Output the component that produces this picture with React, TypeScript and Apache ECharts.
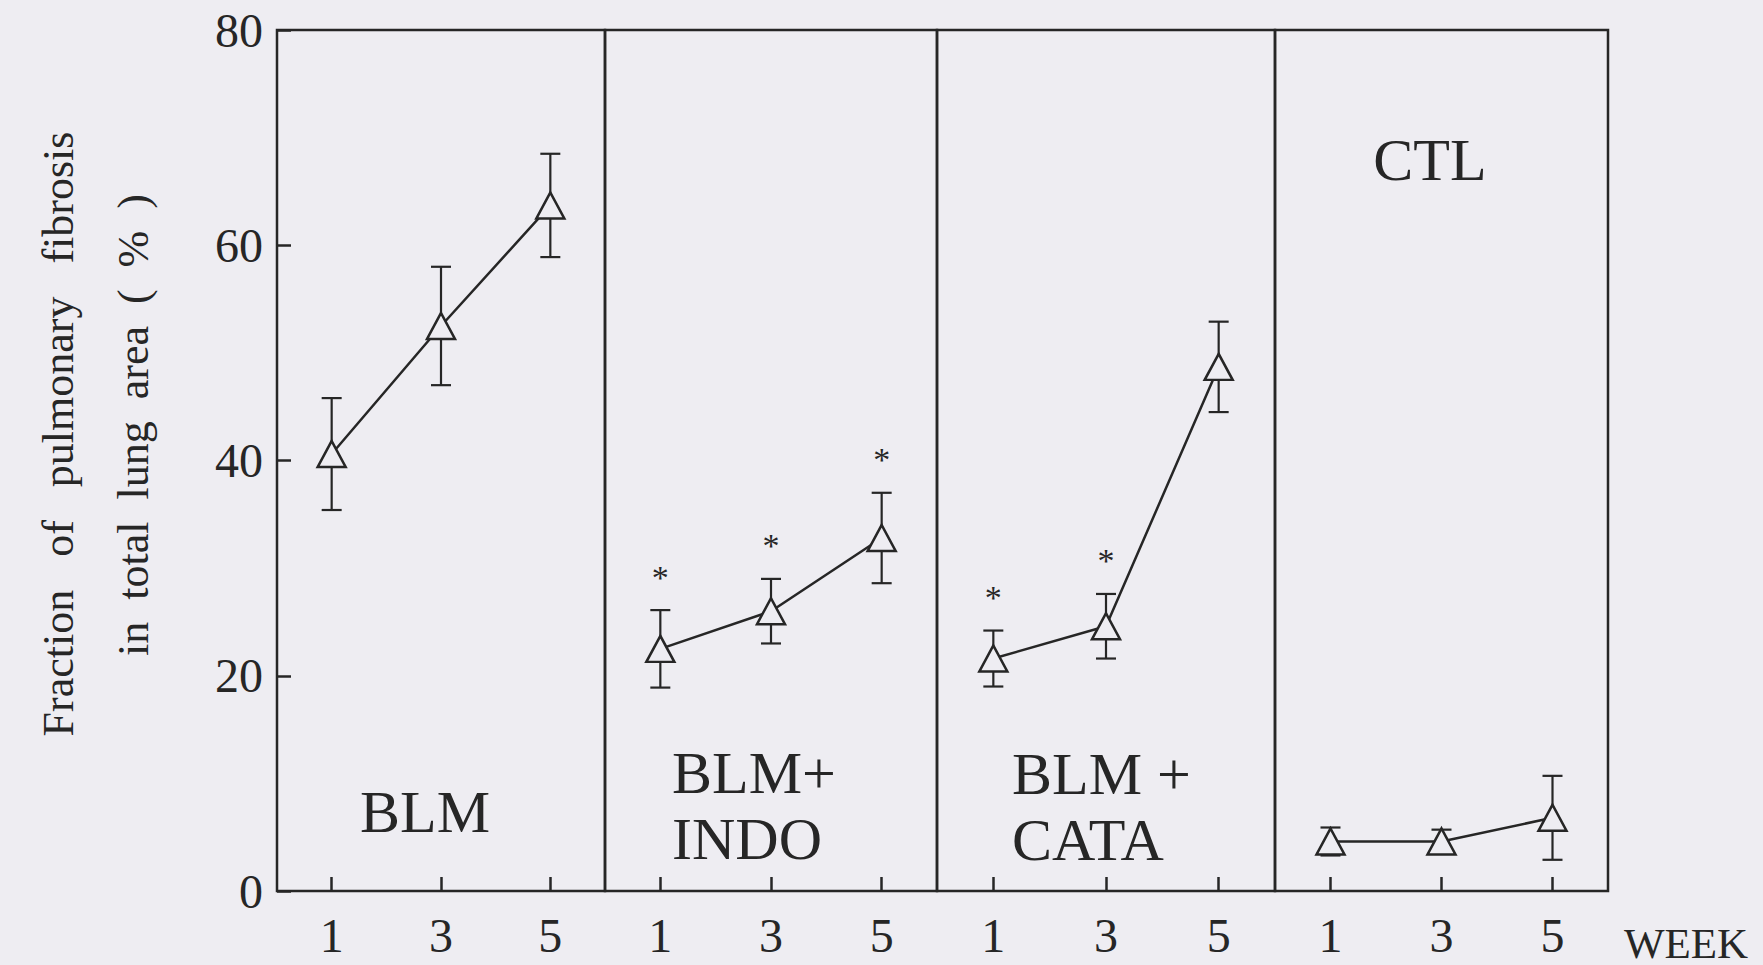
import React, { useEffect, useRef } from "react";
import * as echarts from "echarts";

// ---- data ----
const weeks = [1, 3, 5];
const xTickValues = [1, 3, 5];
const yTickValues = [0, 20, 40, 60, 80];
const groupNames = ["BLM", "BLM+INDO", "BLM+CATA", "CTL"];
const panelLabels = ["BLM", "BLM+\nINDO", "BLM +\nCATA", "CTL"];

const blmMean = [40.6, 52.5, 63.7];
const blmSd = [5.2, 5.5, 4.8];
const indoMean = [22.5, 26.0, 32.8];
const indoSd = [3.6, 3.0, 4.2];
const cataMean = [21.6, 24.6, 48.7];
const cataSd = [2.6, 3.0, 4.2];
const ctlMean = [4.6, 4.6, 6.8];
const ctlSd = [1.3, 1.1, 3.9];

const blmSig = [false, false, false];
const indoSig = [true, true, true];
const cataSig = [true, true, false];
const ctlSig = [false, false, false];

const yTitleLine1 = "Fraction   of   pulmonary   fibrosis";
const yTitleLine2 = "in  total  lung  area  (  %  )";
const xUnitLabel = "WEEK";

// ---- styling / layout ----
const BG = "#eeedf2";
const INK = "#262626";
const FONT = "'Liberation Serif', 'DejaVu Serif', serif";
const panelLeft = [277, 605, 937, 1275];
const panelWidth = [328, 332, 338, 333];
const gridTop = 30;
const gridHeight = 861;

const means = [blmMean, indoMean, cataMean, ctlMean];
const sds = [blmSd, indoSd, cataSd, ctlSd];
const sigs = [blmSig, indoSig, cataSig, ctlSig];

export default function App() {
  const ref = useRef<HTMLDivElement>(null);

  useEffect(() => {
    if (!ref.current) return;
    const chart = echarts.init(ref.current, undefined, { renderer: "svg" });

    const grids = panelLeft.map((l, i) => ({
      left: l,
      top: gridTop,
      width: panelWidth[i],
      height: gridHeight,
      show: true,
      borderColor: INK,
      borderWidth: 2.5,
      backgroundColor: "transparent",
    }));

    const xAxes = groupNames.map((_, i) => ({
      type: "value",
      gridIndex: i,
      min: 0,
      max: 6,
      axisLine: { show: false },
      splitLine: { show: false },
      axisTick: {
        show: true,
        inside: true,
        length: 14,
        customValues: xTickValues,
        lineStyle: { color: INK, width: 2.5 },
      },
      axisLabel: {
        show: true,
        customValues: xTickValues,
        fontSize: 48,
        fontFamily: FONT,
        color: INK,
        margin: 20,
      },
    }));

    const yAxes = groupNames.map((_, i) => ({
      type: "value",
      gridIndex: i,
      min: 0,
      max: 80,
      interval: 20,
      axisLine: { show: false },
      splitLine: { show: false },
      axisTick: {
        show: i === 0,
        inside: true,
        length: 14,
        customValues: yTickValues,
        lineStyle: { color: INK, width: 2.5 },
      },
      axisLabel: {
        show: i === 0,
        customValues: yTickValues,
        fontSize: 48,
        fontFamily: FONT,
        color: INK,
        margin: 14,
      },
    }));

    const series: any[] = [];
    groupNames.forEach((name, i) => {
      const errData = weeks.map((w, j) => [
        w,
        means[i][j] - sds[i][j],
        means[i][j] + sds[i][j],
        sigs[i][j] ? 1 : 0,
      ]);
      series.push({
        type: "custom",
        name: name + " SD",
        xAxisIndex: i,
        yAxisIndex: i,
        z: 2,
        data: errData,
        encode: { x: 0, y: [1, 2] },
        renderItem: (params: any, api: any) => {
          const x = api.value(0);
          const lo = api.coord([x, api.value(1)]);
          const hi = api.coord([x, api.value(2)]);
          const cap = 10;
          const st = { stroke: INK, lineWidth: 2.2 };
          const children: any[] = [
            { type: "line", shape: { x1: lo[0], y1: lo[1], x2: hi[0], y2: hi[1] }, style: st },
            { type: "line", shape: { x1: lo[0] - cap, y1: lo[1], x2: lo[0] + cap, y2: lo[1] }, style: st },
            { type: "line", shape: { x1: hi[0] - cap, y1: hi[1], x2: hi[0] + cap, y2: hi[1] }, style: st },
          ];
          if (api.value(3)) {
            children.push({
              type: "text",
              x: hi[0],
              y: hi[1] - 33,
              style: {
                text: "*",
                fill: INK,
                fontSize: 34,
                fontFamily: FONT,
                align: "center",
                verticalAlign: "middle",
                textAlign: "center",
                textVerticalAlign: "middle",
              },
            });
          }
          return { type: "group", children };
        },
      });
      series.push({
        type: "line",
        name,
        xAxisIndex: i,
        yAxisIndex: i,
        z: 5,
        data: weeks.map((w, j) => [w, means[i][j]]),
        symbol: "triangle",
        symbolSize: [28, 26],
        showAllSymbol: true,
        lineStyle: { color: INK, width: 2.5 },
        itemStyle: { color: BG, borderColor: INK, borderWidth: 2.5 },
      });
    });

    const labelStyle = (text: string, align: string) => ({
      text,
      fill: INK,
      fontSize: 60,
      fontFamily: FONT,
      lineHeight: 66,
      align,
      verticalAlign: "middle",
      textAlign: align,
      textVerticalAlign: "middle",
    });

    const graphic: any[] = [
      {
        type: "text",
        x: 58,
        y: 434,
        rotation: Math.PI / 2,
        style: {
          text: yTitleLine1,
          fill: INK,
          fontSize: 44,
          fontFamily: FONT,
          align: "center",
          verticalAlign: "middle",
          textAlign: "center",
          textVerticalAlign: "middle",
        },
      },
      {
        type: "text",
        x: 133,
        y: 425,
        rotation: Math.PI / 2,
        style: {
          text: yTitleLine2,
          fill: INK,
          fontSize: 44,
          fontFamily: FONT,
          align: "center",
          verticalAlign: "middle",
          textAlign: "center",
          textVerticalAlign: "middle",
        },
      },
      { type: "text", x: 425, y: 812, style: labelStyle(panelLabels[0], "center") },
      { type: "text", x: 672, y: 806, style: labelStyle(panelLabels[1], "left") },
      { type: "text", x: 1012, y: 807, style: labelStyle(panelLabels[2], "left") },
      { type: "text", x: 1430, y: 160, style: labelStyle(panelLabels[3], "center") },
      {
        type: "text",
        x: 1624,
        y: 943,
        style: {
          text: xUnitLabel,
          fill: INK,
          fontSize: 43,
          fontFamily: FONT,
          align: "left",
          verticalAlign: "middle",
          textAlign: "left",
          textVerticalAlign: "middle",
        },
      },
    ];

    chart.setOption({
      animation: false,
      backgroundColor: BG,
      grid: grids,
      xAxis: xAxes,
      yAxis: yAxes,
      series,
      graphic,
    });

    return () => chart.dispose();
  }, []);

  return (
    <div
      ref={ref}
      style={{ position: "fixed", left: 0, top: 0, width: 1763, height: 965, background: BG }}
    />
  );
}
